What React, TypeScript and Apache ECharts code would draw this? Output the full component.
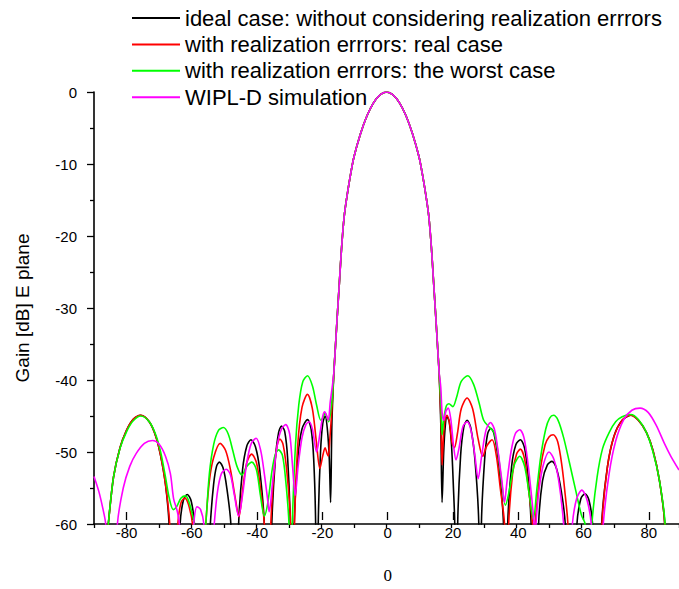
import React, { useEffect, useRef } from "react";
import * as echarts from "echarts";

// Angle (deg) / gain (dB) pairs
const mainLobe = [
  [-16.2, -39], [-15.8, -36], [-15.2, -31.5], [-14.5, -26.5], [-13.8, -21.5], [-13, -17.2],
  [-12, -14], [-11, -11.3], [-10, -9], [-8, -5.8], [-6, -3.3], [-4, -1.5], [-2, -0.4], [0, 0],
  [2, -0.4], [4, -1.5], [6, -3.3], [8, -5.8], [10, -9], [11, -11.3], [12, -14], [13, -17.2],
  [13.8, -21.5], [14.5, -26.5], [15.2, -31.5], [15.8, -36], [16.2, -39],
];

const idealLeft = [
  [-90, -80], [-85.6, -60], [-84, -53.5], [-82, -49.4], [-80, -47], [-78, -45.5], [-75.6, -44.9],
  [-73, -45.8], [-71, -47.8], [-69.5, -50.5], [-68, -54.5], [-66.9, -60], [-65.2, -80],
  [-63.5, -60], [-62.5, -56.7], [-61.3, -55.9], [-60.1, -56.8], [-59.1, -60], [-56.7, -80],
  [-54.2, -60], [-53.2, -54.5], [-52.3, -52], [-51.4, -51.4], [-50.3, -52.2], [-49.2, -54.8],
  [-47.9, -60], [-46.7, -80], [-45.5, -60], [-44.3, -52.5], [-43, -49.2], [-41.7, -48.3],
  [-40.3, -49.3], [-39, -52.5], [-37.6, -60], [-36.5, -80], [-35.3, -60], [-34.2, -51],
  [-33.2, -47.3], [-32.3, -46.4], [-31.3, -47.2], [-30.4, -51], [-29.6, -60], [-29, -80],
  [-28.4, -60], [-27.2, -50.5], [-26, -46.8], [-24.3, -45.5], [-23.2, -46.8], [-22.4, -51],
  [-21.8, -60], [-21.4, -80], [-21, -60], [-20.3, -50], [-19.6, -46], [-18.9, -45],
  [-18.2, -46.8], [-17.6, -51], [-17.2, -57], [-16.8, -46],
];
const idealRight = [
  [16.7, -46], [17.1, -57], [17.6, -50], [18.1, -46.3], [18.6, -45.1], [19.3, -45.8], [20, -49],
  [20.6, -55], [21, -60], [21.45, -80], [21.9, -60], [22.8, -50.5], [23.8, -46.5], [24.8, -45.6],
  [25.9, -46.6], [27.2, -51], [28.4, -60], [28.8, -80], [29.2, -60], [30.2, -51], [31.1, -47.5],
  [32.1, -46.7], [33.1, -47.5], [34.5, -51.5], [36, -60], [36.6, -80], [37.3, -60], [38.5, -52],
  [39.8, -49], [41.2, -48.3], [42.5, -49.5], [43.5, -53], [44.5, -60], [45.6, -80], [46.8, -60],
  [48, -54], [49.5, -51.8], [50.9, -51.3], [52.3, -52.3], [53.8, -55.5], [55, -60], [56.8, -80],
  [58.6, -60], [59.8, -56.5], [61.1, -55.8], [62.3, -56.7], [63.4, -60], [64.8, -80], [66.2, -60],
  [68, -52], [70, -47.8], [72.5, -45.6], [75.2, -44.9], [77.5, -45.6], [80, -47.3], [82, -49.8],
  [84, -54], [85.6, -60], [86.5, -80], [90, -80],
];

const realLeft = [
  [-90, -80], [-85.6, -60], [-84, -53.5], [-82, -49.4], [-80, -47], [-78, -45.5], [-75.6, -44.9],
  [-73, -45.8], [-71, -47.8], [-69.5, -50.5], [-68, -54.5], [-66.7, -60], [-65.5, -75],
  [-64.2, -60], [-63.2, -57], [-62.1, -56.4], [-61, -57.2], [-59.7, -60], [-57.5, -75],
  [-55.6, -60], [-54.5, -54], [-53.2, -50.8], [-51.2, -48.8], [-49.5, -49.8], [-48, -52.5],
  [-46.5, -56.5], [-45.4, -59], [-44.2, -55], [-43, -51.5], [-41.5, -50.3], [-40, -51.5],
  [-38.8, -55], [-37.6, -60], [-36.6, -75], [-35.6, -60], [-34.5, -52], [-33.6, -49],
  [-32.8, -48.2], [-31.8, -49], [-30.6, -53], [-29.5, -60], [-28.9, -75], [-28.3, -60],
  [-27.3, -49], [-26, -43.8], [-24.3, -42], [-22.8, -44], [-21.6, -48.5], [-20.5, -52.3],
  [-19.6, -50.5], [-18.9, -49.4], [-18.3, -50.2], [-17.9, -50.6], [-17.4, -48], [-16.8, -44],
];
const realRight = [
  [16.8, -46], [17.1, -51.8], [17.5, -48], [18, -45.5], [18.6, -44.9], [19.4, -46], [20.2, -48.8],
  [20.9, -49.4], [21.8, -47.5], [23, -44], [24.8, -42.5], [26.5, -44], [28.2, -48.2], [29.6, -50.6],
  [30.8, -49.2], [32.5, -48.3], [33.8, -50.5], [35, -55], [36.3, -60], [36.9, -75], [37.6, -60],
  [38.8, -53], [40, -50.3], [41.2, -49.6], [42.5, -51], [43.8, -55.5], [44.6, -58.5], [45.3, -61],
  [46.2, -57.5], [47.3, -52.5], [48.8, -49], [50, -47.9], [51.3, -47.6], [52.7, -48.6], [54, -52],
  [55, -56], [55.8, -60], [56.6, -75], [61, -80], [65.5, -75], [66.3, -60], [68, -52], [70, -47.8],
  [72.5, -45.6], [75, -44.9], [77.5, -45.6], [80, -47.3], [82, -49.8], [84, -54], [85.6, -60],
  [86.5, -80], [90, -80],
];

const worstLeft = [
  [-90, -80], [-85.6, -60], [-84, -53.5], [-82, -49.5], [-80, -47.2], [-78, -45.7], [-75.6, -45],
  [-73, -45.8], [-71, -47.6], [-69.5, -50], [-68, -53.5], [-66.8, -56.5], [-65.6, -58],
  [-64.6, -57.6], [-63.2, -56.4], [-61.8, -56.1], [-60.6, -57.2], [-59.2, -60], [-57.5, -70],
  [-55.6, -60], [-54.5, -53], [-53.2, -49], [-51.7, -47], [-50.2, -46.6], [-48.7, -47.5],
  [-47.3, -49.8], [-46, -52], [-44.5, -53.2], [-43, -52], [-41.4, -51.4], [-40, -52.5],
  [-38.8, -56], [-37.6, -58.9], [-36.5, -57], [-35.2, -52.5], [-34.2, -50.3], [-33.2, -49.7],
  [-32, -50.5], [-31, -54], [-30, -60], [-29.5, -70], [-29, -60], [-28, -49], [-27, -43.5],
  [-25.8, -40.3], [-24.3, -39.4], [-22.8, -40.8], [-21.5, -43.5], [-20.2, -45.6], [-19.5, -45.2],
  [-18.9, -44.6], [-18.3, -45.2], [-17.8, -45.8], [-17.2, -44.5], [-16.6, -42],
];
const worstRight = [
  [16.8, -44], [17.1, -47.6], [17.6, -45.5], [18.4, -43.6], [19.2, -43.3], [20.4, -43.7],
  [21.5, -42.5], [23, -40.2], [25, -39.4], [26.8, -40.6], [28.5, -43.2], [29.9, -45.6],
  [31.5, -46.5], [33, -47.2], [34.3, -50], [35.5, -54.5], [36.6, -57.4], [37.8, -55.3],
  [39.3, -51.8], [41, -50.6], [42.5, -52], [43.8, -55.5], [45.2, -59.3], [46.3, -55],
  [47.5, -50.5], [49, -46.8], [50.2, -45.3], [51.4, -44.9], [52.8, -45.6], [54.5, -48],
  [56.3, -51.5], [58.3, -55.5], [60, -58.8], [61.1, -60], [62.2, -70], [63.2, -60], [64.8, -53.5],
  [66.5, -49.5], [68.5, -47.3], [70.5, -45.8], [72.5, -45.1], [75.2, -44.8], [77.5, -45.5],
  [80, -47.3], [82, -50], [84, -54], [85.7, -60], [86.5, -80], [90, -80],
];

const wiplLeft = [
  [-90, -53.4], [-88.5, -55.5], [-87.3, -57.8], [-86.4, -60], [-84.6, -75], [-82.8, -60],
  [-81, -55], [-79, -52], [-77, -50.2], [-74.5, -48.8], [-72, -48.4], [-70, -48.9], [-68, -50.6],
  [-66.5, -53], [-65.5, -56.5], [-64.4, -58.2], [-63.7, -60], [-61.5, -75], [-59.3, -60],
  [-58.3, -57.6], [-57.2, -58], [-56.2, -60], [-54.6, -70], [-53, -60], [-52, -55.5],
  [-50.8, -53], [-49.3, -52.4], [-48, -53.2], [-46.8, -56], [-45.5, -58.9], [-44.3, -56],
  [-43, -51.5], [-41.6, -48.8], [-40.1, -48.1], [-38.7, -49.8], [-37.6, -53], [-36.6, -56.5],
  [-36.1, -58.3], [-35, -54], [-33.6, -49], [-32.3, -46.8], [-31, -46.2], [-29.8, -47.5],
  [-28.9, -52], [-28.1, -56], [-27.2, -52], [-26, -48], [-24.8, -46.2], [-23.8, -45.8],
  [-22.8, -46.8], [-21.5, -50], [-20.5, -47.5], [-19.6, -45], [-19, -44.4], [-18.4, -45],
  [-17.9, -45.6], [-17.3, -43], [-16.7, -41],
];
const wiplRight = [
  [16.7, -41], [17.1, -44.5], [17.6, -45.6], [18.3, -44.3], [19, -43.9], [19.8, -45.5],
  [20.6, -49], [21.4, -51.1], [22.3, -49.5], [23.5, -46.5], [24.8, -45.8], [26, -47], [27.2, -50.5],
  [28.2, -53.7], [29.3, -50.5], [30.6, -47], [32, -45.9], [33.3, -47], [34.5, -50.5], [35.5, -54],
  [36.3, -57], [37.1, -54], [38.3, -50], [39.6, -47.5], [41, -46.9], [42.3, -48], [43.5, -51.5],
  [44.6, -56], [45.4, -60], [45.7, -64], [46, -60], [47, -55], [48.3, -51.7], [50, -50], [51.5, -51],
  [53, -54], [54.5, -60], [55.8, -70], [57.2, -60], [58.5, -56.5], [60.1, -55.3], [61.6, -56.5],
  [63, -60], [64.8, -75], [66.7, -60], [68.5, -53], [70.5, -48.5], [73, -45.5], [75.5, -44.2],
  [78, -43.9], [80.5, -44.5], [83, -46.3], [85.5, -48.8], [87.5, -50.6], [90, -52.5],
];

const seriesNames = [
  "ideal case: without considering realization errrors",
  "with realization errrors: real case",
  "with realization errrors: the worst case",
  "WIPL-D simulation",
];
const seriesColors = ["#000000", "#ff0000", "#00ff00", "#ff00ff"];
const seriesData = [
  [...idealLeft, ...mainLobe, ...idealRight],
  [...realLeft, ...mainLobe, ...realRight],
  [...worstLeft, ...mainLobe, ...worstRight],
  [...wiplLeft, ...mainLobe, ...wiplRight],
];

const xMajorTicks = { min: -80, max: 80, interval: 20 };
const yTicks = { min: -60, max: 0, interval: 10 };

const FONT = "'Liberation Sans', Arial, sans-serif";

export default function App() {
  const ref = useRef<HTMLDivElement>(null);
  useEffect(() => {
    document.body.style.margin = "0";
    const chart = echarts.init(ref.current!, null, { renderer: "svg" });
    const axisColor = "#000";
    chart.setOption({
      animation: false,
      backgroundColor: "#fff",
      textStyle: { fontFamily: FONT },
      legend: {
        orient: "vertical",
        left: 132,
        top: 7,
        padding: 0,
        itemGap: 4.4,
        itemWidth: 48,
        itemHeight: 2,
        icon: "rect",
        selectedMode: false,
        data: seriesNames,
        textStyle: { fontFamily: FONT, fontSize: 22, color: "#000", lineHeight: 21 },
      },
      grid: [
        { left: 94, top: 92, width: 587, height: 432 },
        { left: 126.6, top: 92, width: 522.2, height: 432 },
      ],
      xAxis: [
        {
          type: "value",
          gridIndex: 0,
          min: -90,
          max: 90,
          interval: 10,
          axisLine: { show: true, onZero: false, lineStyle: { color: axisColor, width: 1.6 } },
          axisTick: { show: true, length: 4, lineStyle: { color: axisColor, width: 1.3 } },
          axisLabel: { show: false },
          splitLine: { show: false },
        },
        {
          type: "value",
          gridIndex: 1,
          min: xMajorTicks.min,
          max: xMajorTicks.max,
          interval: xMajorTicks.interval,
          axisLine: { show: false, onZero: false },
          axisTick: { show: true, length: 8, lineStyle: { color: axisColor, width: 1.3 } },
          axisLabel: { fontSize: 15, color: "#000", margin: 13, fontFamily: FONT },
          splitLine: { show: false },
          name: "0",
          nameLocation: "middle",
          nameGap: 55,
          nameTextStyle: { fontFamily: "'Liberation Serif', 'Times New Roman', serif", fontSize: 17, color: "#000" },
        },
      ],
      yAxis: [
        {
          type: "value",
          gridIndex: 0,
          min: yTicks.min,
          max: yTicks.max,
          interval: yTicks.interval,
          axisLine: { show: true, onZero: false, lineStyle: { color: axisColor, width: 1.6 } },
          axisTick: { show: true, length: 7, lineStyle: { color: axisColor, width: 1.3 } },
          minorTick: { show: true, splitNumber: 2, length: 4, lineStyle: { color: axisColor, width: 1.3 } },
          axisLabel: { fontSize: 15, color: "#000", margin: 17, fontFamily: FONT },
          splitLine: { show: false },
          name: "Gain [dB] E plane",
          nameLocation: "middle",
          nameGap: 62,
          nameTextStyle: { fontFamily: FONT, fontSize: 19, color: "#000" },
        },
        { type: "value", gridIndex: 1, min: yTicks.min, max: yTicks.max, show: false },
      ],
      series: seriesNames.map((name, i) => ({
        name,
        type: "line",
        xAxisIndex: 0,
        yAxisIndex: 0,
        data: seriesData[i],
        showSymbol: false,
        symbol: "none",
        smooth: 0.3,
        clip: true,
        color: seriesColors[i],
        lineStyle: { color: seriesColors[i], width: 1.6 },
      })),
    });
    return () => chart.dispose();
  }, []);
  return (
    <div
      ref={ref}
      style={{ position: "fixed", left: 0, top: 0, width: 679, height: 589 }}
    />
  );
}
